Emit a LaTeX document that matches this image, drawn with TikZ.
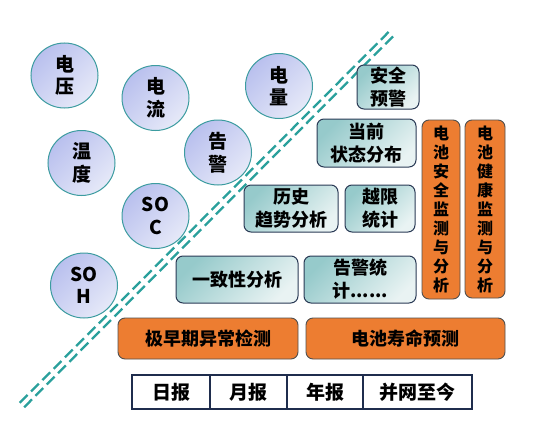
\documentclass[tikz,border=0pt]{standalone}
\usepackage{fontspec}
\setmainfont{Noto Sans CJK SC}
\usetikzlibrary{shapes.geometric}
\definecolor{circtop}{HTML}{B9C0EE}
\definecolor{circbot}{HTML}{E6E9F8}
\definecolor{circline}{HTML}{3C9CA0}
\definecolor{tealtop}{HTML}{96CACB}
\definecolor{tealbot}{HTML}{E9F3F3}
\definecolor{boxline}{HTML}{2A3A55}
\definecolor{orangefill}{HTML}{ED7D31}
\definecolor{orangeline}{HTML}{505050}
\definecolor{dashcol}{HTML}{2AA09C}
\definecolor{tabline}{HTML}{1F2D4D}
\begin{document}
\begin{tikzpicture}[x=1pt,y=-1pt,
  bubble/.style={ellipse, draw=circline, line width=1pt, top color=circtop, bottom color=circbot, shading angle=45,
    minimum width=67pt, minimum height=65pt, inner sep=0pt, align=center,
    font=\fontsize{19}{22.5}\selectfont\bfseries},
  tealbox/.style={rectangle, rounded corners=7pt, draw=boxline, line width=1pt, top color=tealtop, bottom color=tealbot, shading angle=45,
    inner sep=0pt, align=center, font=\fontsize{18}{23}\selectfont\bfseries},
  orangebox/.style={rectangle, rounded corners=7pt, draw=orangeline, line width=0.9pt, fill=orangefill,
    inner sep=0pt, align=center, font=\fontsize{18}{23}\selectfont\bfseries},
  vbox/.style={orangebox, font=\fontsize{16}{19}\selectfont\bfseries},
  cell/.style={rectangle, draw=tabline, line width=2.5pt, minimum height=34pt, inner sep=0pt, outer sep=0pt,
    font=\fontsize{19}{22}\selectfont\bfseries},
  dl/.style={draw=dashcol, line width=2.3pt, dash pattern=on 11pt off 5pt}
]
\useasboundingbox (0,0) rectangle (549,447);

% dashed double divider
\coordinate (la) at (22,405);
\coordinate (lb) at (392,33);
\draw[dl] ([shift={(-2.2,-2.2)}]la) -- ([shift={(-2.2,-2.2)}]lb);
\draw[dl] ([shift={(2.2,2.2)}]la) -- ([shift={(2.2,2.2)}]lb);

% bubbles
\node[bubble] (dy) at (64.5,75.5) {电\\压};
\node[bubble] (dl) at (155.5,98) {电\\流};
\node[bubble] (wd) at (81.5,163) {温\\度};
\node[bubble] (gj) at (218,152.5) {告\\警};
\node[bubble] (dla) at (279,86) {电\\量};
\node[bubble] (soc) at (155.5,216) {SO\\C};
\node[bubble] (soh) at (84,285.5) {SO\\H};

% teal boxes
\node[tealbox, minimum width=62pt, minimum height=44pt] (aqyj) at (388,87) {安全\\预警};
\node[tealbox, minimum width=99pt, minimum height=48pt] (dqzt) at (366.5,143) {当前\\状态分布};
\node[tealbox, minimum width=94pt, minimum height=47pt] (lsqs) at (291,208.5) {历史\\趋势分析};
\node[tealbox, minimum width=70pt, minimum height=47pt] (yxtj) at (380,208.5) {越限\\统计};
\node[tealbox, minimum width=122pt, minimum height=47pt] (yzx) at (237,279.5) {一致性分析};
\node[tealbox, minimum width=112pt, minimum height=47pt] (gjtj) at (360,279.5) {告警统\\计......};

% orange boxes
\node[vbox, minimum width=38pt, minimum height=179pt] (aqjc) at (441,209.5) {电\\池\\安\\全\\监\\测\\与\\分\\析};
\node[vbox, minimum width=40pt, minimum height=178pt] (jkjc) at (485,209) {电\\池\\健\\康\\监\\测\\与\\分\\析};
\node[orangebox, minimum width=180pt, minimum height=41pt] (jzq) at (208,338.5) {极早期异常检测};
\node[orangebox, minimum width=199pt, minimum height=41pt] (smyc) at (405.5,338.5) {电池寿命预测};

% table
\node[cell, minimum width=78pt] (rb) at (171,392) {日报};
\node[cell, minimum width=77pt] (yb) at (248.5,392) {月报};
\node[cell, minimum width=76pt] (nb) at (325,392) {年报};
\node[cell, minimum width=109pt] (bw) at (417.5,392) {并网至今};
\end{tikzpicture}
\end{document}
